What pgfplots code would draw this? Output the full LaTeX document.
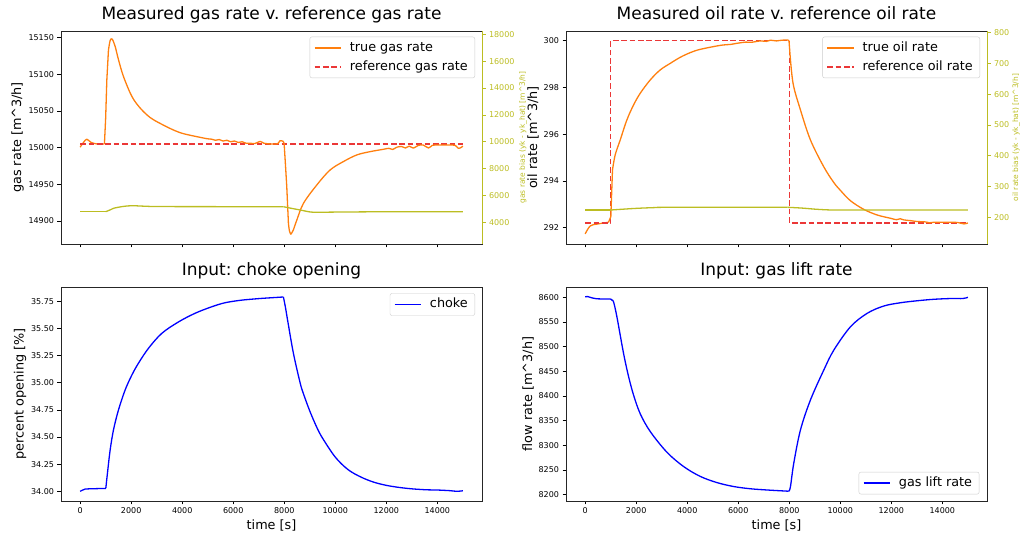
\documentclass[border=0pt]{standalone}
\usepackage{fontspec}
\setmainfont{DejaVu Sans}
\usepackage{pgfplots}
\pgfplotsset{compat=1.18}
\definecolor{tOrange}{RGB}{255,127,14}
\definecolor{tRed}{RGB}{235,55,55}
\definecolor{tOlive}{RGB}{188,189,34}
\definecolor{tBlue}{RGB}{0,0,255}
\frenchspacing

\pgfplotsset{
  base/.style={
    scale only axis, width=421pt, anchor=south west,
    xmin=-750, xmax=15750,
    xtick={0,2000,4000,6000,8000,10000,12000,14000},
    tick pos=left,
    tick align=outside, major tick length=3.5pt,
    tick style={black, line width=0.6pt},
    axis line style={black!85, line width=0.6pt},
    scaled ticks=false,
    /pgf/number format/1000 sep={},
    /pgf/number format/assume math mode=true,
    ticklabel style={font=\fontsize{8}{9}\selectfont},
    label style={font=\fontsize{12.8}{15}\selectfont},
    title style={font=\fontsize{17}{20}\selectfont, at={(axis description cs:0.5,1)}, anchor=base, yshift=5.7pt},
    legend style={draw=black!20, rounded corners=2pt, fill=white, fill opacity=0.8, text opacity=1,
      font=\fontsize{12.8}{15}\selectfont, inner xsep=4pt, inner ysep=1.5pt,
      nodes={inner xsep=3pt, inner ysep=3.2pt, text height=9.6pt, text depth=3pt},
      /tikz/every odd column/.append style={column sep=5pt}},
    legend image code/.code={\draw[#1] (0pt,0pt) -- (26.7pt,0pt);},
    legend cell align=left,
    every axis plot/.append style={line width=1.3pt, line join=round},
  },
  twin/.style={
    scale only axis, width=421pt, anchor=south west,
    xmin=-750, xmax=15750, axis x line=none, xtick=\empty,
    axis y line*=right, tick align=outside, major tick length=3.5pt,
    y axis line style={tOlive, line width=0.6pt},
    ytick style={tOlive, line width=0.6pt},
    yticklabel style={tOlive, font=\fontsize{8}{9}\selectfont},
    ylabel style={tOlive, font=\fontsize{7.5}{9}\selectfont, anchor=center},
    scaled ticks=false,
    /pgf/number format/1000 sep={},
    /pgf/number format/assume math mode=true,
    every axis plot/.append style={line width=1.3pt, line join=round},
  },
  sm/.style={smooth, tension=0.55},
}

\begin{document}
\begin{tikzpicture}
\useasboundingbox (0pt,0pt) rectangle (1023pt,534pt);

% ---------------- top left ----------------
\begin{axis}[base, at={(61pt,290pt)}, height=213pt,
  ymin=14868.6, ymax=15159, ytick={14900,14950,15000,15050,15100,15150},
  xticklabels={},
  title={Measured gas rate v. reference gas rate},
  ylabel={gas rate [m\textasciicircum 3/h]},
  ylabel style={at={(axis description cs:-0.103,0.5)}, anchor=center},
  legend style={at={(1,1)}, anchor=north east, xshift=-7pt, yshift=-5.7pt}]
\addplot[tOrange, sm] coordinates {
(0,15000.5) (130,15007) (262,15011.5) (418,15007.3) (653,15005) (952,15005)};
\addlegendentry{true gas rate}
\addplot[tRed, dash pattern=on 5.7pt off 2.7pt] coordinates {(0,15005) (15000,15005)};
\addlegendentry{reference gas rate}
\addplot[tOrange, forget plot] coordinates {
(952,15005) (1000,15040) (1046,15092) (1110,15133)};
\addplot[tOrange, sm, forget plot] coordinates {
(1110,15133) (1176,15146) (1254,15148) (1372,15138)
(1502,15120) (1698,15097) (2025,15070) (2351,15054) (2743,15041) (3135,15033)
(3657,15024) (4050,15019) (4703,15014) (5000,15012) (5150,15011.5) (5300,15010)
(5450,15011) (5600,15009) (5750,15010) (5900,15008) (6050,15009) (6200,15007)
(6350,15008) (6500,15006) (6661,15006) (6850,15005.5) (7053,15008.5) (7200,15006)
(7445,15005) (7600,15005) (7750,15005.5) (7837,15009.5) (7941,15009) (7994,15006)};
\addplot[tOrange, forget plot] coordinates {
(7994,15006) (8050,14975) (8098,14947) (8163,14897)};
\addplot[tOrange, sm, forget plot] coordinates {
(8163,14897) (8200,14887) (8256,14882) (8300,14884)
(8359,14888) (8490,14901) (8752,14924) (9274,14949) (9797,14969.5) (10320,14981)
(10842,14990) (11364,14994.5) (11886,14997.7) (12100,14999) (12250,14997.5)
(12408,15000.5) (12600,15001.5) (12750,14999.5) (12900,15002) (13060,14999.3)
(13250,15003) (13450,15003.5) (13650,14999.5) (13800,15003) (13977,15003.5)
(14250,15003.5) (14498,15003.5) (14700,15003) (14825,14999) (14900,14999.5) (15000,15002)};
\end{axis}
\begin{axis}[twin, at={(61pt,290pt)}, height=213pt,
  ymin=2384, ymax=18246, ytick={4000,6000,8000,10000,12000,14000,16000,18000},
  ylabel={gas rate bias (yk - yk\_hat) [m\textasciicircum 3/h]},
  ylabel style={at={(axis description cs:1.0974,0.5)}}]
\addplot[tOlive] coordinates {(0,4790) (1000,4790)};
\addplot[tOlive, sm] coordinates {
(1000,4790) (1150,4900) (1306,5040) (1650,5170) (2021,5236) (2500,5200)
(3396,5170) (7967,5162)};
\addplot[tOlive, sm] coordinates {
(7967,5162) (8200,5070) (8621,4916) (9013,4770) (9300,4745) (10000,4760) (12000,4785) (15000,4790)};
\end{axis}

% ---------------- top right ----------------
\begin{axis}[base, at={(566pt,290pt)}, height=213pt,
  ymin=291.30, ymax=300.415, ytick={292,294,296,298,300},
  xticklabels={},
  title={Measured oil rate v. reference oil rate},
  ylabel={oil rate [m\textasciicircum 3/h]},
  ylabel style={at={(axis description cs:-0.078,0.5)}, anchor=center},
  legend style={at={(1,1)}, anchor=north east, xshift=-7pt, yshift=-5.7pt}]
\addplot[tOrange, sm] coordinates {
(0,291.73) (196,292.07) (458,292.15) (916,292.23)};
\addlegendentry{true oil rate}
\addplot[tRed, dash pattern=on 5.7pt off 2.7pt] coordinates {
(0,292.2) (1000,292.2) (1000,300) (8000,300) (8000,292.2) (15000,292.2)};
\addlegendentry{reference oil rate}
\addplot[tOrange, forget plot] coordinates {
(916,292.23) (1007,292.47) (1072,294.47)};
\addplot[tOrange, sm, forget plot] coordinates {
(1072,294.47) (1177,295.11) (1374,295.75) (1636,296.61) (1898,297.25) (2159,297.75) (2551,298.32)
(2943,298.75) (3336,299.03) (3728,299.29) (4121,299.49) (4513,299.63) (5298,299.80)
(5700,299.84) (5900,299.88) (6083,299.91) (6300,299.94) (6500,299.93) (6868,299.99)
(7100,299.97) (7261,300.02) (7500,299.99) (7700,300.02) (7942,300.03) (7990,300.0)};
\addplot[tOrange, forget plot] coordinates {(7990,300.0) (8017,299.6)};
\addplot[tOrange, sm, forget plot] coordinates {
(8017,299.6) (8148,298.18) (8438,297.04) (8831,295.75) (9354,294.6) (9746,293.93)
(10000,293.6) (10400,293.15) (10923,292.78) (11447,292.54) (11970,292.40) (12200,292.34) (12350,292.38)
(12493,292.33) (12750,292.30) (13017,292.26) (13300,292.25) (13500,292.21) (13671,292.23)
(14000,292.23) (14325,292.23) (14600,292.22) (14848,292.16) (15000,292.2)};
\end{axis}
\begin{axis}[twin, at={(566pt,290pt)}, height=213pt,
  ymin=113.3, ymax=805.5, ytick={200,300,400,500,600,700,800},
  ylabel={oil rate bias (yk - yk\_hat) [m\textasciicircum 3/h]},
  ylabel style={at={(axis description cs:1.069,0.5)}}]
\addplot[tOlive] coordinates {(0,223.7) (1000,223.7)};
\addplot[tOlive, sm] coordinates {
(1000,223.7) (1500,226.5) (2028,229.2) (2700,231.5) (3336,232.5) (7939,232.5)};
\addplot[tOlive, sm] coordinates {
(7939,232.5) (8500,230) (9093,226) (9746,223.7) (11000,223.5) (15000,223.7)};
\end{axis}

% ---------------- bottom left ----------------
\begin{axis}[base, at={(61pt,33pt)}, height=214pt,
  ymin=33.911, ymax=35.882, ytick={34,34.25,34.5,34.75,35,35.25,35.5,35.75},
  yticklabel style={/pgf/number format/.cd, fixed, fixed zerofill, precision=2},
  title={Input: choke opening},
  xlabel={time [s]},
  xlabel style={at={(axis description cs:0.5,0)}, anchor=base, yshift=-28.3pt},
  ylabel={percent opening [\%]},
  ylabel style={at={(axis description cs:-0.0974,0.5)}, anchor=center},
  legend style={at={(1,1)}, anchor=north east, xshift=-7pt, yshift=-6.3pt}]
\addplot[tBlue, sm] coordinates {
(0,34.0) (100,34.012) (196,34.021) (522,34.024) (1006,34.027)};
\addlegendentry{choke}
\addplot[tBlue, sm, forget plot] coordinates {
(1006,34.028) (1084,34.196) (1176,34.38) (1306,34.565) (1502,34.749) (1763,34.933)
(2025,35.07) (2286,35.18) (2677,35.317) (3200,35.455) (3853,35.56) (4506,35.64)
(5160,35.70) (5682,35.737) (6300,35.76) (7000,35.775) (7500,35.783) (7967,35.79)};
\addplot[tBlue, sm, forget plot] coordinates {
(7967,35.79) (8050,35.69) (8150,35.55) (8360,35.27) (8621,35.00) (8750,34.90)
(9000,34.74) (9274,34.59) (9500,34.49) (10000,34.315) (10500,34.20) (11000,34.132)
(11500,34.085) (12000,34.055) (12500,34.036) (13000,34.023) (13584,34.014)
(14000,34.012) (14500,34.006) (14765,34.0) (15000,34.005)};
\end{axis}

% ---------------- bottom right ----------------
\begin{axis}[base, at={(566pt,33pt)}, height=214pt,
  ymin=8187.2, ymax=8620.9, ytick={8200,8250,8300,8350,8400,8450,8500,8550,8600},
  title={Input: gas lift rate},
  xlabel={time [s]},
  xlabel style={at={(axis description cs:0.5,0)}, anchor=base, yshift=-28.3pt},
  ylabel={flow rate [m\textasciicircum 3/h]},
  ylabel style={at={(axis description cs:-0.090,0.5)}, anchor=center},
  legend style={at={(1,0)}, anchor=south east, xshift=-7.7pt, yshift=6.7pt}]
\addplot[tBlue, sm] coordinates {
(0,8601) (100,8601.5) (196,8600) (458,8597) (981,8596.5) (1050,8594) (1112,8591)
(1243,8561) (1505,8486.5) (1700,8440) (1897,8402) (2159,8364) (2551,8328) (3206,8286)
(3860,8257) (4513,8237) (5167,8224.5) (5821,8216.5) (6475,8212) (7130,8209.5) (7979,8207)};
\addlegendentry{gas lift rate}
\addplot[tBlue, sm, forget plot] coordinates {
(7979,8207) (8046,8216) (8176,8263.6) (8438,8331) (8831,8392) (9354,8452.7) (9746,8493)
(10401,8540.4) (11055,8567.6) (11709,8582.4) (12363,8589) (13017,8593) (13671,8596)
(14325,8597.5) (14800,8597.5) (15000,8600)};
\end{axis}
\end{tikzpicture}
\end{document}
